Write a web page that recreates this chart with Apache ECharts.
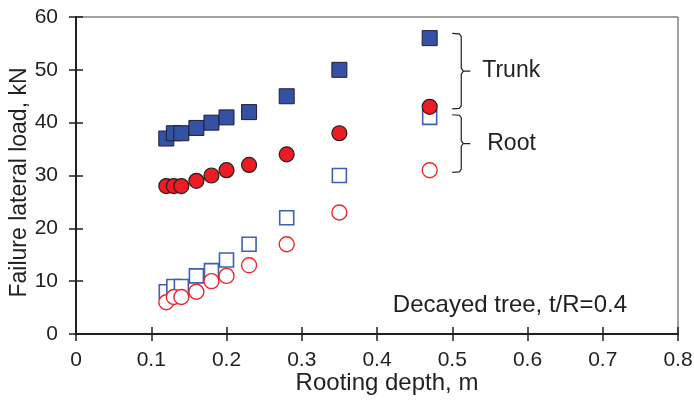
<!DOCTYPE html>
<html>
<head>
<meta charset="utf-8">
<script src="https://cdn.jsdelivr.net/npm/echarts@6/dist/echarts.min.js"></script>
<style>html,body{margin:0;padding:0;background:#fff}#c{width:694px;height:400px}</style>
</head>
<body>
<div id="c"></div>
<script>
var depth = [0.12, 0.13, 0.14, 0.16, 0.18, 0.20, 0.23, 0.28, 0.35, 0.47];
var trunkSquare = [37, 38, 38, 39, 40, 41, 42, 45, 50, 56];
var trunkCircle = [28, 28, 28, 29, 30, 31, 32, 34, 38, 43];
var rootSquare = [8, 9, 9, 11, 12, 14, 17, 22, 30, 41];
var rootCircle = [6, 7, 7, 8, 10, 11, 13, 17, 23, 31];
var xTicks = [0, 0.1, 0.2, 0.3, 0.4, 0.5, 0.6, 0.7, 0.8];
var yTicks = [0, 10, 20, 30, 40, 50, 60];
var annoText = 'Decayed tree, t/R=0.4';

function pairs(ys) { return depth.map(function (x, i) { return [x, ys[i]]; }); }

var FONT = '"Liberation Sans", Arial, sans-serif';
var dark = '#231f20';
var chart = echarts.init(document.getElementById('c'));

function xAx(inside, main) {
  return {
    type: 'value', min: xTicks[0], max: xTicks[xTicks.length - 1], interval: 0.1,
    position: 'bottom',
    name: main ? 'Rooting depth, m' : '', nameLocation: 'middle', nameGap: 37, nameMoveOverlap: false,
    nameTextStyle: { fontFamily: FONT, fontSize: 24, color: dark, padding: [0, 0, 0, 20] },
    axisLine: { show: main, onZero: false, lineStyle: { color: dark, width: 2 } },
    axisTick: { show: true, inside: inside, length: 7, lineStyle: { color: dark, width: 1.5 } },
    axisLabel: { show: main, margin: 16, fontFamily: FONT, fontSize: 21, color: dark,
      formatter: function (v) { return String(Math.round(v * 10) / 10); } },
    splitLine: { show: false }
  };
}
function yAx(inside, main) {
  return {
    type: 'value', min: yTicks[0], max: yTicks[yTicks.length - 1], interval: 10,
    position: 'left',
    name: main ? 'Failure lateral load, kN' : '', nameLocation: 'middle', nameGap: 45, nameMoveOverlap: false,
    nameTextStyle: { fontFamily: FONT, fontSize: 23, color: dark, padding: [0, 14, 0, 0] },
    axisLine: { show: main, onZero: false, lineStyle: { color: dark, width: 2 } },
    axisTick: { show: true, inside: inside, length: 7, lineStyle: { color: dark, width: 1.5 } },
    axisLabel: { show: main, margin: 18, fontFamily: FONT, fontSize: 21, color: dark },
    splitLine: { show: false }
  };
}

var option = {
  animation: false,
  backgroundColor: '#fff',
  grid: { left: 76, right: 16, top: 17, bottom: 66, containLabel: false, outerBoundsMode: 'none',
    show: true, borderColor: '#444', borderWidth: 1, backgroundColor: 'transparent' },
  xAxis: [xAx(false, true), xAx(true, false)],
  yAxis: [yAx(false, true), yAx(true, false)],
  series: [
    { type: 'scatter', data: pairs(rootSquare), symbol: 'rect', symbolSize: 14,
      itemStyle: { color: '#fff', borderColor: '#3e5fb5', borderWidth: 1.6, opacity: 1 } },
    { type: 'scatter', data: pairs(rootCircle), symbol: 'circle', symbolSize: 15,
      itemStyle: { color: '#fff', borderColor: '#ee2528', borderWidth: 1.4, opacity: 1 } },
    { type: 'scatter', data: pairs(trunkSquare), symbol: 'rect', symbolSize: 15,
      itemStyle: { color: '#3451a4', borderColor: '#1e1e3c', borderWidth: 1, opacity: 1 } },
    { type: 'scatter', data: pairs(trunkCircle), symbol: 'circle', symbolSize: 15,
      itemStyle: { color: '#ec1c24', borderColor: '#231f20', borderWidth: 1.2, opacity: 1 } }
  ]
};
chart.setOption(option);

function px(x, y) { return chart.convertToPixel({ xAxisIndex: 0, yAxisIndex: 0 }, [x, y]); }
function bracket(yTop, yBot) {
  var a = px(0.5, yTop), b = px(0.5, yBot);
  var x0 = a[0], xv = x0 + 9, xt = x0 + 18, t = a[1], bt = b[1], m = (t + bt) / 2;
  return {
    type: 'polyline', silent: true,
    shape: { points: [[x0, t], [xv - 2, t + 0.5], [xv, t + 3], [xv, m - 3], [xv + 2, m], [xt, m], [xv + 2, m], [xv, m + 3], [xv, bt - 3], [xv - 2, bt - 0.5], [x0, bt]] },
    style: { stroke: dark, lineWidth: 1.2, fill: null }
  };
}
var trunkTop = trunkSquare[9] + 0.9, trunkBot = trunkCircle[9] - 0.4;
var rootTop = rootSquare[9] + 0.5, rootBot = rootCircle[9] - 0.4;
var tm = px(0.5, (trunkTop + trunkBot) / 2), rm = px(0.5, (rootTop + rootBot) / 2);
var an = px(0.8, 5.4);
chart.setOption({
  graphic: [
    bracket(trunkTop, trunkBot),
    bracket(rootTop, rootBot),
    { type: 'text', silent: true, x: tm[0] + 30, y: tm[1], style: { text: 'Trunk', font: '23px ' + FONT, fill: dark, verticalAlign: 'middle', align: 'left' } },
    { type: 'text', silent: true, x: rm[0] + 35, y: rm[1], style: { text: 'Root', font: '23px ' + FONT, fill: dark, verticalAlign: 'middle', align: 'left' } },
    { type: 'text', silent: true, x: an[0] - 51, y: an[1], style: { text: annoText, font: '24px ' + FONT, fill: dark, verticalAlign: 'middle', align: 'right' } }
  ]
});
</script>
</body>
</html>
